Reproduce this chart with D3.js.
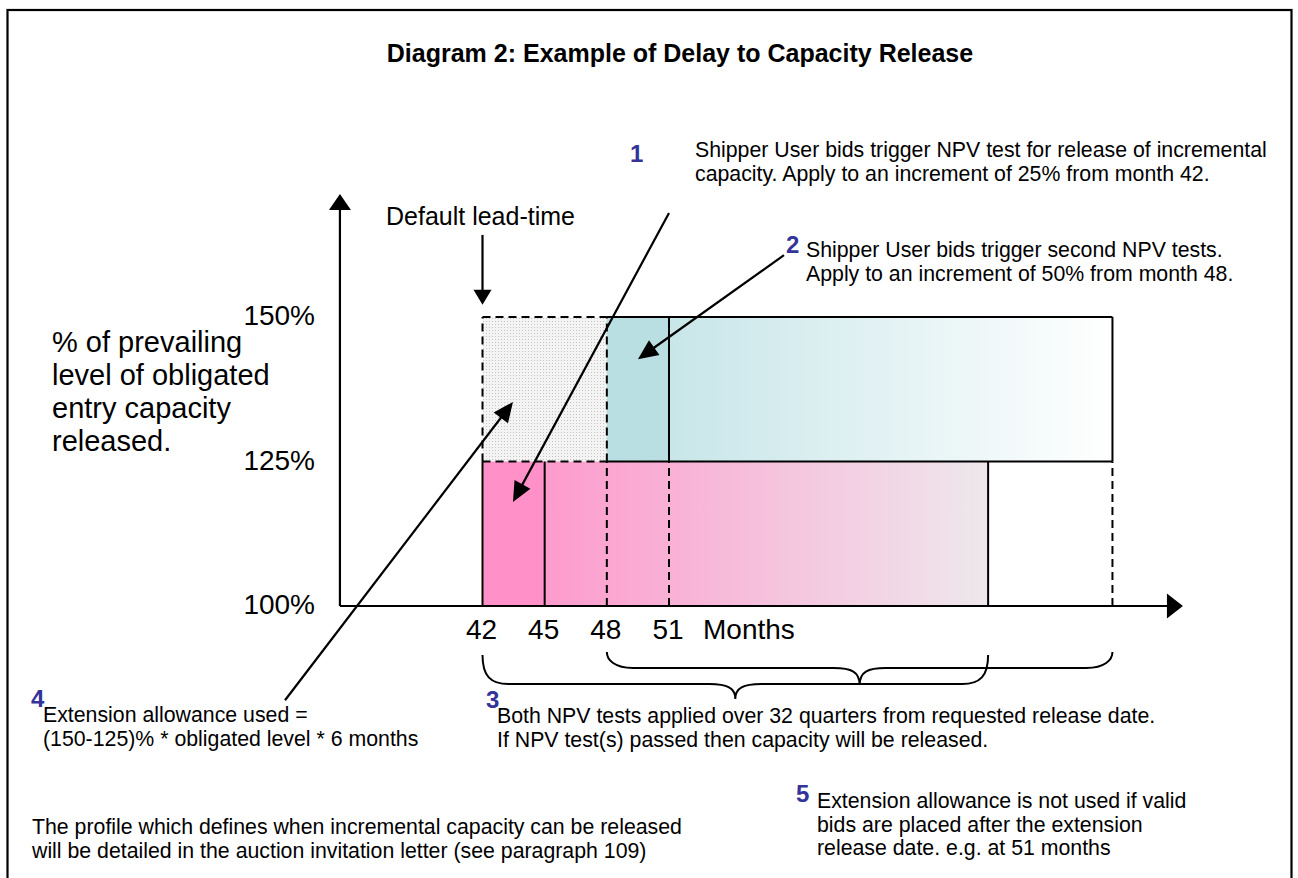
<!DOCTYPE html>
<html><head><meta charset="utf-8">
<script src="https://cdn.jsdelivr.net/npm/d3@7"></script>
<style>
body{margin:0;background:#fff}
text{font-family:"Liberation Sans",Arial,Helvetica,sans-serif;fill:#000}
</style>
</head><body>
<svg id="c" width="1298" height="878"></svg>
<script>
// ---------- data ----------
const title = "Diagram 2: Example of Delay to Capacity Release";
const monthTicks = [42, 45, 48, 51];
const monthLabels = ["42", "45", "48", "51"];
const xAxisLabel = "Months";
const pctTicks = [100, 125, 150];
const pctLabels = ["100%", "125%", "150%"];
const yAxisLabelLines = ["% of prevailing", "level of obligated", "entry capacity", "released."];
const xAxisExtent = [35.12, 75.8];     // months
const yAxisExtent = [100, 171.3];      // percent

// blocks: default lead-time, first increment (25% from month 42), second increment (50% from month 48)
const blockNames = ["lead", "inc25", "inc50"];
const blockStart = [42, 42, 48];
const blockEnd = [48, 66.4, 72.4];
const blockLow = [125, 100, 125];
const blockHigh = [150, 125, 150];
const bidMonths = [45, 51];            // when bids were placed (solid dividers)

// annotation arrows, in (month, percent)
const arrowFrom = [[42, 164.2], [51, 168.0], [56.55, 160.7], [32.47, 83.7]];
const arrowTo = [[42, 152.1], [43.47, 118.0], [49.5, 142.7], [43.47, 135.3]];

const leadLabel = "Default lead-time";
const noteNums = ["1", "2", "3", "4", "5"];
const note1 = ["Shipper User bids trigger NPV test for release of incremental", "capacity. Apply to an increment of 25% from month 42."];
const note2 = ["Shipper User bids trigger second NPV tests.", "Apply to an increment of 50% from month 48."];
const note3 = ["Both NPV tests applied over 32 quarters from requested release date.", "If NPV test(s) passed then capacity will be released."];
const note4 = ["Extension allowance used =", "(150-125)% * obligated level * 6 months"];
const note5 = ["Extension allowance is not used if valid", "bids are placed after the extension", "release date. e.g. at 51 months"];
const footNote = ["The profile which defines when incremental capacity can be released", "will be detailed in the auction invitation letter (see paragraph 109)"];

// ---------- drawing ----------
const svg = d3.select("#c");
const x = d3.scaleLinear().domain([42, 51]).range([482.5, 669]);
const y = d3.scaleLinear().domain([100, 150]).range([606, 317]);

const defs = svg.append("defs");
const pat = defs.append("pattern").attr("id", "dots").attr("width", 3).attr("height", 3).attr("patternUnits", "userSpaceOnUse");
pat.append("rect").attr("width", 3).attr("height", 3).attr("fill", "#f4f4f4");
pat.append("rect").attr("width", 1).attr("height", 1).attr("fill", "#c4c4c4");
const gT = defs.append("linearGradient").attr("id", "gTeal");
gT.append("stop").attr("offset", 0).attr("stop-color", "#c8e6e9");
gT.append("stop").attr("offset", 1).attr("stop-color", "#ffffff");
const gP = defs.append("linearGradient").attr("id", "gPink");
gP.append("stop").attr("offset", 0).attr("stop-color", "#fd9bcd");
gP.append("stop").attr("offset", 1).attr("stop-color", "#eee8ec");

// frame
svg.append("rect").attr("x", 7.5).attr("y", 10).attr("width", 1284).attr("height", 920)
  .attr("fill", "none").attr("stroke", "#000").attr("stroke-width", 2.2);

// fills
const L = 0, I25 = 1, I50 = 2;
function fillRect(m0, m1, p0, p1, fill) {
  svg.append("rect").attr("x", x(m0)).attr("y", y(p1)).attr("width", x(m1) - x(m0)).attr("height", y(p0) - y(p1)).attr("fill", fill);
}
fillRect(blockStart[L], blockEnd[L], blockLow[L], blockHigh[L], "url(#dots)");
fillRect(blockStart[I50], bidMonths[1], blockLow[I50], blockHigh[I50], "#badfe2");
fillRect(bidMonths[1], blockEnd[I50], blockLow[I50], blockHigh[I50], "url(#gTeal)");
fillRect(blockStart[I25], bidMonths[0], blockLow[I25], blockHigh[I25], "#ff90c8");
fillRect(bidMonths[0], blockEnd[I25], blockLow[I25], blockHigh[I25], "url(#gPink)");

function seg(m0, p0, m1, p1, dashed) {
  svg.append("line").attr("x1", x(m0)).attr("y1", y(p0)).attr("x2", x(m1)).attr("y2", y(p1))
    .attr("stroke", "#000").attr("stroke-width", 2)
    .attr("stroke-dasharray", dashed ? "8,5" : null);
}
// default lead-time box (dashed)
seg(blockStart[L], blockHigh[L], blockEnd[L], blockHigh[L], true);
seg(blockStart[L], blockLow[L], blockStart[L], blockHigh[L], true);
seg(blockStart[L], blockLow[L], blockEnd[L], blockLow[L], true);
seg(blockEnd[L], blockLow[L], blockEnd[L], blockHigh[L], true);
// second increment
seg(blockStart[I50], blockHigh[I50], blockEnd[I50], blockHigh[I50], false);
seg(blockStart[I50], blockLow[I50], blockEnd[I50], blockLow[I50], false);
seg(blockEnd[I50], blockLow[I50], blockEnd[I50], blockHigh[I50], false);
seg(bidMonths[1], blockLow[I50], bidMonths[1], blockHigh[I50], false);
// first increment
seg(blockStart[I25], blockLow[I25], blockStart[I25], blockHigh[I25], false);
seg(blockEnd[I25], blockLow[I25], blockEnd[I25], blockHigh[I25], false);
seg(bidMonths[0], blockLow[I25], bidMonths[0], blockHigh[I25], false);
seg(blockStart[I50], blockLow[I25], blockStart[I50], blockHigh[I25], true);
seg(bidMonths[1], blockLow[I25], bidMonths[1], blockHigh[I25], true);
seg(blockEnd[I50], blockLow[I25], blockEnd[I50], blockHigh[I25], true);

// arrow helper (px)
function arrow(x1, y1, x2, y2, len, half, sw) {
  const dx = x2 - x1, dy = y2 - y1, d = Math.hypot(dx, dy), ux = dx / d, uy = dy / d;
  const bx = x2 - ux * len, by = y2 - uy * len;
  svg.append("line").attr("x1", x1).attr("y1", y1).attr("x2", bx + ux * 2).attr("y2", by + uy * 2)
    .attr("stroke", "#000").attr("stroke-width", sw);
  svg.append("path").attr("d", `M${x2},${y2}L${bx - uy * half},${by + ux * half}L${bx + uy * half},${by - ux * half}Z`).attr("fill", "#000");
}
// axes
arrow(x(xAxisExtent[0]), y(yAxisExtent[0]), x(xAxisExtent[0]), y(yAxisExtent[1]), 16, 11, 2.2);
arrow(x(xAxisExtent[0]), y(yAxisExtent[0]), x(xAxisExtent[1]), y(yAxisExtent[0]), 16, 12.5, 2.2);

// annotation arrows
arrowFrom.forEach((f, i) => {
  const t = arrowTo[i];
  arrow(x(f[0]), y(f[1]), x(t[0]), y(t[1]), i === 0 ? 15 : 20, 9, 2.2);
});

// braces
function brace(m0, m1, yTop, yMid, yTip) {
  const x0 = x(m0), x1 = x(m1), mid = (x0 + x1) / 2, q = 26;
  const d = `M${x0},${yTop} C${x0},${yMid - 8} ${x0 + 8},${yMid} ${x0 + q},${yMid}` +
    ` L${mid - q},${yMid} C${mid - 8},${yMid} ${mid},${yMid + 4} ${mid},${yTip}` +
    ` C${mid},${yMid + 4} ${mid + 8},${yMid} ${mid + q},${yMid}` +
    ` L${x1 - q},${yMid} C${x1 - 8},${yMid} ${x1},${yMid - 8} ${x1},${yTop}`;
  svg.append("path").attr("d", d).attr("fill", "none").attr("stroke", "#000").attr("stroke-width", 2);
}
brace(blockStart[I50], blockEnd[I50], 652, 668, 685);
brace(blockStart[I25], blockEnd[I25], 655, 684, 699);

// tick labels
svg.selectAll(".mt").data(monthTicks).enter().append("text")
  .attr("x", d => x(d) - 1).attr("y", 639).attr("text-anchor", "middle")
  .style("font-size", "28px").text((d, i) => monthLabels[i]);
svg.append("text").attr("x", 703).attr("y", 639).style("font-size", "28px").text(xAxisLabel);
svg.selectAll(".pt").data(pctTicks).enter().append("text")
  .attr("x", 315).attr("y", d => y(d) + 8).attr("text-anchor", "end")
  .style("font-size", "28px").text((d, i) => pctLabels[i]);
yAxisLabelLines.forEach((t, i) => {
  svg.append("text").attr("x", 52).attr("y", 352 + i * 33).style("font-size", "29px").text(t);
});

// title
svg.append("text").attr("x", 680).attr("y", 62).attr("text-anchor", "middle")
  .style("font-size", "25px").style("font-weight", "bold").text(title);
svg.append("text").attr("x", 386).attr("y", 225).style("font-size", "25px").text(leadLabel);

function lines(arr, x0, y0, step) {
  arr.forEach((t, i) => svg.append("text").attr("x", x0).attr("y", y0 + i * step).style("font-size", "21.3px").text(t));
}
function num(t, x0, y0) {
  svg.append("text").attr("x", x0).attr("y", y0).style("font-size", "24px").style("font-weight", "bold")
    .style("fill", "#333399").text(t);
}
num(noteNums[0], 630, 162); lines(note1, 695, 157, 23.5);
num(noteNums[1], 786, 253); lines(note2, 806, 257, 23.5);
num(noteNums[2], 486, 708); lines(note3, 497, 723, 24);
num(noteNums[3], 31, 707); lines(note4, 43, 722, 23.5);
num(noteNums[4], 796, 802); lines(note5, 817, 808, 23.5);
lines(footNote, 32, 834, 24);
</script>
</body></html>
